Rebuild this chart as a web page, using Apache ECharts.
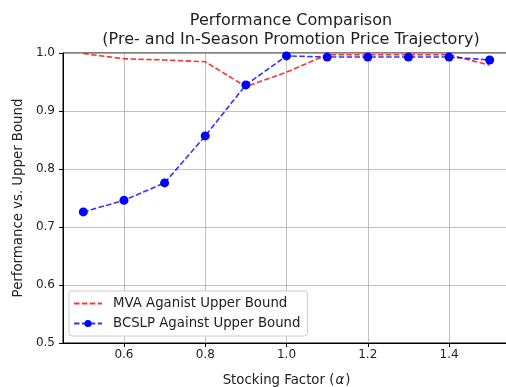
<!DOCTYPE html>
<html>
<head>
<meta charset="utf-8">
<script src="https://cdn.jsdelivr.net/npm/echarts@6/dist/echarts.min.js"></script>
<style>
html,body{margin:0;padding:0;background:#fff;}
#c{width:506px;height:387px;}
</style>
</head>
<body>
<div id="c"></div>
<script>
const alphas = [0.5, 0.6, 0.7, 0.8, 0.9, 1.0, 1.1, 1.2, 1.3, 1.4, 1.5];
const mva = [0.999, 0.990, 0.988, 0.985, 0.942, 0.967, 0.997, 0.997, 0.997, 0.997, 0.979];
const bcslp = [0.726, 0.746, 0.776, 0.857, 0.945, 0.995, 0.993, 0.993, 0.993, 0.993, 0.988];
const xTicks = [0.6, 0.8, 1.0, 1.2, 1.4];
const yTicks = [0.5, 0.6, 0.7, 0.8, 0.9, 1.0];
const titleLines = ['Performance Comparison', '(Pre- and In-Season Promotion Price Trajectory)'];
const seriesNames = ['MVA Aganist Upper Bound', 'BCSLP Against Upper Bound'];

const FONT = 'DejaVu Sans';
const chart = echarts.init(document.getElementById('c'), null, {renderer: 'canvas'});
chart.setOption({
  animation: false,
  textStyle: {fontFamily: FONT},
  title: {
    text: titleLines.join('\n'),
    left: 286, top: 6, textAlign: 'center',
    textStyle: {fontFamily: FONT, fontSize: 16, fontWeight: 'normal', color: '#222', lineHeight: 19}
  },
  grid: {left: 63, top: 53, width: 447, height: 290, outerBoundsMode: 'none',
    show: true, borderColor: '#000', borderWidth: 1, backgroundColor: 'transparent'},
  legend: {
    orient: 'vertical', left: 69, top: 291,
    backgroundColor: '#fff', borderColor: '#cccccc', borderWidth: 1, borderRadius: 3,
    padding: [6, 7, 6, 4], itemGap: 7, itemWidth: 28, itemHeight: 9,
    textStyle: {fontFamily: FONT, fontSize: 13.3, color: '#222', padding: [0, 0, 0, 6]},
    data: [
      {name: seriesNames[0], itemStyle: {opacity: 0}},
      {name: seriesNames[1]}
    ]
  },
  xAxis: {
    type: 'value', min: 0.45, max: 1.55,
    name: 'Stocking Factor ({a|α})', nameLocation: 'middle', nameGap: 31,
    nameTextStyle: {fontFamily: FONT, fontSize: 13.3, color: '#222',
      rich: {a: {fontFamily: FONT, fontSize: 13.3, fontStyle: 'italic', color: '#222', padding: [0, 1, 0, 1]}}},
    axisLine: {show: true, lineStyle: {color: '#000', width: 1}},
    axisTick: {show: true, length: 4, lineStyle: {color: '#000'}, customValues: xTicks},
    axisLabel: {fontFamily: FONT, fontSize: 12, color: '#222', margin: 6, customValues: xTicks,
      formatter: v => v.toFixed(1)},
    splitLine: {show: true, lineStyle: {color: '#b0b0b0', width: 0.8}}
  },
  yAxis: {
    type: 'value', min: 0.5, max: 1.0, interval: 0.1,
    name: 'Performance vs. Upper Bound', nameLocation: 'middle', nameGap: 38,
    nameTextStyle: {fontFamily: FONT, fontSize: 13.3, color: '#222'},
    axisLine: {show: true, lineStyle: {color: '#000', width: 1}},
    axisTick: {show: true, length: 4, lineStyle: {color: '#000'}},
    axisLabel: {fontFamily: FONT, fontSize: 12, color: '#222', margin: 8,
      formatter: v => v.toFixed(1)},
    splitLine: {show: true, lineStyle: {color: '#b0b0b0', width: 0.8}}
  },
  series: [
    {
      name: seriesNames[0], type: 'line',
      data: alphas.map((a, i) => [a, mva[i]]),
      symbol: 'none', z: 3,
      lineStyle: {color: 'rgba(255,0,0,0.8)', width: 1.6, type: [5.5, 2.4]},
      itemStyle: {color: 'rgba(255,0,0,0.8)'}
    },
    {
      name: seriesNames[1], type: 'line',
      data: alphas.map((a, i) => [a, bcslp[i]]),
      symbol: 'circle', symbolSize: 9, z: 4,
      lineStyle: {color: 'rgba(0,0,255,0.8)', width: 1.6, type: [5.5, 2.4]},
      itemStyle: {color: '#0000ff', opacity: 1}
    }
  ]
});
</script>
</body>
</html>
